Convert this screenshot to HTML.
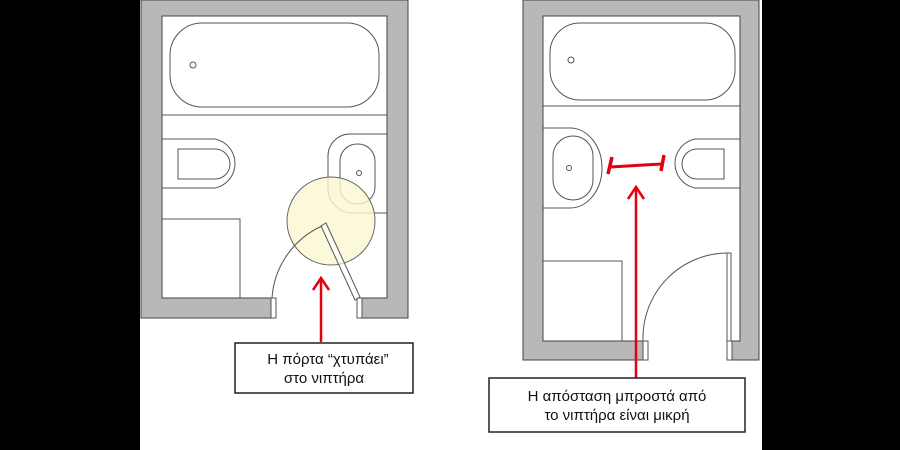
<!DOCTYPE html>
<html><head><meta charset="utf-8"><style>
html,body{margin:0;padding:0;background:#000;}
svg{display:block}
text{font-family:"Liberation Sans",sans-serif;font-size:15px;fill:#111}
</style></head><body>
<svg width="900" height="450" viewBox="0 0 900 450" xmlns="http://www.w3.org/2000/svg">
<rect x="0" y="0" width="900" height="450" fill="#000"/>
<rect x="140" y="0" width="622" height="450" fill="#fff"/>
<g stroke="#555" stroke-width="1" fill="none">
<path d="M141 0 V318 H271 V298 H162 V16 H387 V298 H362 V318 H408 V0 Z" fill="#b8b8b8" stroke="#444"/>
<rect x="271" y="298" width="5" height="20" fill="#fff"/>
<rect x="357" y="298" width="5" height="20" fill="#fff"/>
<rect x="170" y="23" width="209" height="84" rx="32" ry="32"/>
<circle cx="193" cy="65" r="3"/>
<line x1="162" y1="115" x2="387" y2="115"/>
<path d="M162 139 H215 A25 25 0 0 1 215 188 H162"/>
<path d="M178 149 H215 A15 15 0 0 1 215 179 H178 Z"/>
<path d="M387 134 H350 A22 22 0 0 0 328 156 V188 A25 25 0 0 0 353 213 H387"/>
<rect x="340" y="144" width="35" height="60" rx="17"/>
<circle cx="359" cy="173" r="2.5"/>
<polyline points="162,219 240,219 240,298"/>
<circle cx="331" cy="221" r="44" fill="#fbf8d2" fill-opacity="0.8" stroke="#666"/>
<path d="M272 298 A85 85 0 0 1 322 226" fill="none"/>
<polygon points="321,226 326,223 360,297 355,300" fill="#fff" fill-opacity="0.6"/>
<path d="M523 0 V360 H643 V341 H543 V16 H740 V341 H730 V360 H759 V0 Z" fill="#b8b8b8" stroke="#444"/>
<rect x="643" y="341" width="5" height="19" fill="#fff"/>
<rect x="727" y="341" width="5" height="19" fill="#fff"/>
<rect x="550" y="23" width="185" height="77" rx="30" ry="30"/>
<circle cx="571" cy="60" r="3"/>
<line x1="543" y1="106" x2="740" y2="106"/>
<path d="M543 128 H570 A32 40 0 0 1 570 208 H543"/>
<rect x="553" y="136" width="40" height="64" rx="20"/>
<circle cx="569" cy="168" r="2.5"/>
<path d="M740 139 H695 A25 25 0 0 0 695 188 H740"/>
<path d="M724 149 H697 A15 15 0 0 0 697 179 H724 Z"/>
<polyline points="543,261 622,261 622,341"/>
<path d="M643 341 A85 85 0 0 1 727 253"/>
<rect x="727" y="253" width="4" height="88" fill="#fff"/>
</g>
<g stroke="#e3000f" stroke-width="2.5" fill="none">
<line x1="321" y1="342" x2="321" y2="278"/>
<polyline points="313,290 321,278 329,290"/>
<line x1="636" y1="378" x2="636" y2="187"/>
<polyline points="628,199 636,187 644,199"/>
<line x1="610" y1="167" x2="662" y2="164" stroke-width="3"/>
<line x1="612" y1="157" x2="608" y2="174" stroke-width="3.5"/>
<line x1="664" y1="155" x2="661" y2="171" stroke-width="3.5"/>
</g>
<rect x="235" y="343" width="178" height="50" fill="#fff" stroke="#222" stroke-width="1.5"/>
<text x="328" y="364" text-anchor="middle">Η πόρτα “χτυπάει”</text>
<text x="324" y="383" text-anchor="middle">στο νιπτήρα</text>
<rect x="489" y="378" width="256" height="54" fill="#fff" stroke="#222" stroke-width="1.5"/>
<text x="617" y="401" text-anchor="middle">Η απόσταση μπροστά από</text>
<text x="617" y="420" text-anchor="middle">το νιπτήρα είναι μικρή</text>
</svg>
</body></html>
